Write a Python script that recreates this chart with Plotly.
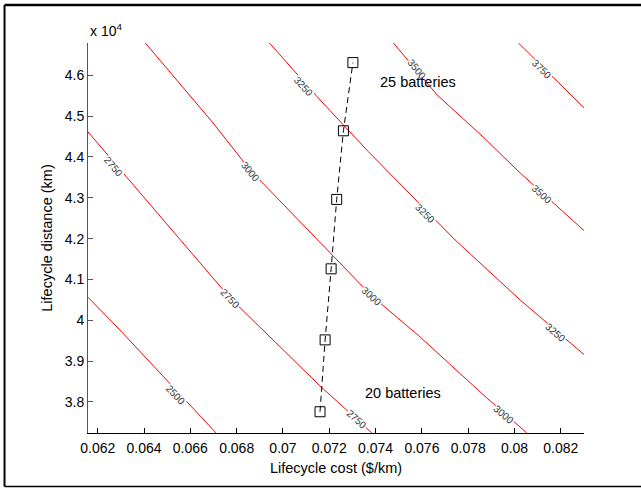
import plotly.graph_objects as go

# ---------------- data ----------------
# contour lines (lifecycle cost $/km, lifecycle distance km)
c2500_x = [0.061581, 0.062963, 0.064691, 0.066419, 0.06711]
c2500_y = [40564, 39760, 38710, 37650, 37241]

c2750_x = [0.061581, 0.063568, 0.065555, 0.067715, 0.069659, 0.071603, 0.073836]
c2750_y = [44612, 43289, 41967, 40547, 39470, 38392, 37241]

c3000_x = [0.064056, 0.066981, 0.068579, 0.071603, 0.073836, 0.075922, 0.078803, 0.080531]
c3000_y = [46791, 44832, 43681, 41894, 40596, 39592, 38098, 37241]

c3250_x = [0.069413, 0.071603, 0.073689, 0.075577, 0.077434, 0.080242, 0.083019]
c3250_y = [46791, 45395, 44129, 43045, 41967, 40498, 39151]

c3500_x = [0.074769, 0.076657, 0.078644, 0.080242, 0.083019]
c3500_y = [46791, 45518, 44489, 43608, 42188]

c3750_x = [0.080168, 0.082186, 0.083019]
c3750_y = [46791, 45665, 45192]

contour_levels = [2500, 2750, 3000, 3250, 3500, 3750]

# contour label positions (level, x, y, angle)
label_level = [2500, 2750, 2750, 2750, 3000, 3000, 3000, 3250, 3250, 3250, 3500, 3500, 3750]
label_x = [0.065339, 0.062674, 0.067715, 0.073188, 0.068579, 0.073836, 0.079521,
           0.070881, 0.076138, 0.081754, 0.07578, 0.081179, 0.081179]
label_y = [38172, 43762, 40540, 37560, 43640, 40579, 37682,
           45721, 42621, 39697, 46130, 43069, 46130]
label_angle = [47, 50, 47, 42, 50, 42, 41, 48, 45, 41, 50, 42, 45]

# battery design points (20 .. 25 batteries)
batteries = [20, 21, 22, 23, 24, 25]
bat_cost = [0.07160, 0.07182, 0.07208, 0.07232, 0.07261, 0.07302]
bat_dist = [37760, 39520, 41260, 42960, 44640, 46310]

x_ticks = [0.062, 0.064, 0.066, 0.068, 0.070, 0.072, 0.074, 0.076, 0.078, 0.080, 0.082]
x_tick_labels = ["0.062", "0.064", "0.066", "0.068", "0.07", "0.072", "0.074",
                 "0.076", "0.078", "0.08", "0.082"]
y_ticks = [38000, 39000, 40000, 41000, 42000, 43000, 44000, 45000, 46000]
y_tick_labels = ["3.8", "3.9", "4", "4.1", "4.2", "4.3", "4.4", "4.5", "4.6"]

# ---------------- figure ----------------
FONT = "Liberation Sans, Arial, sans-serif"
fig = go.Figure()

for xs, ys in [(c2500_x, c2500_y), (c2750_x, c2750_y), (c3000_x, c3000_y),
               (c3250_x, c3250_y), (c3500_x, c3500_y), (c3750_x, c3750_y)]:
    fig.add_trace(go.Scatter(x=xs, y=ys, mode="lines",
                             line=dict(color="#ff0000", width=1),
                             showlegend=False, hoverinfo="skip"))

fig.add_trace(go.Scatter(x=bat_cost, y=bat_dist, mode="lines+markers",
                         line=dict(color="black", width=1, dash="6px,4px"),
                         marker=dict(symbol="square-open", size=10,
                                     color="black", line=dict(width=1)),
                         showlegend=False))

for lv, lx, ly, ang in zip(label_level, label_x, label_y, label_angle):
    fig.add_annotation(x=lx, y=ly, xref="x", yref="y", text=str(lv),
                       showarrow=False, textangle=ang, bgcolor="white",
                       borderpad=0, font=dict(family=FONT, size=10, color="#333"))

fig.add_annotation(x=0.07411, y=45836, xref="x", yref="y", text="25 batteries",
                   xanchor="left", showarrow=False,
                   font=dict(family=FONT, size=14.5, color="black"))
fig.add_annotation(x=0.07346, y=38221, xref="x", yref="y", text="20 batteries",
                   xanchor="left", showarrow=False,
                   font=dict(family=FONT, size=14.5, color="black"))
fig.add_annotation(x=0, y=1.0, xref="paper", yref="paper",
                   text="x 10<sup>4</sup>", xanchor="left", yanchor="bottom",
                   yshift=2, showarrow=False,
                   font=dict(family=FONT, size=14, color="black"))

# figure border (top, left, bottom; right edge lies at the picture edge)
BX0, BX1, BY0, BY1 = -0.1683, 1.116, -0.1372, 1.0974
fig.add_shape(type="line", xref="paper", yref="paper",
              x0=BX0, x1=BX1, y0=BY1, y1=BY1, line=dict(color="black", width=2.5))
fig.add_shape(type="line", xref="paper", yref="paper",
              x0=BX0, x1=BX0, y0=BY0, y1=BY1, line=dict(color="black", width=2))
fig.add_shape(type="line", xref="paper", yref="paper",
              x0=BX0, x1=BX1, y0=BY0, y1=BY0, line=dict(color="black", width=1.5))

fig.update_layout(
    width=641, height=488,
    margin=dict(l=88, r=57, t=43, b=55),
    paper_bgcolor="white", plot_bgcolor="white",
    font=dict(family=FONT, size=14, color="black"),
    xaxis=dict(range=[0.06158, 0.0830], tickvals=x_ticks, ticktext=x_tick_labels,
               ticks="inside", ticklen=5, tickcolor="black", showline=True,
               linecolor="black", linewidth=1, showgrid=False, zeroline=False,
               automargin=False, ticklabelstandoff=2,
               title=dict(text="Lifecycle cost ($/km)", standoff=8,
                          font=dict(size=14.5))),
    yaxis=dict(range=[37240, 46790], tickvals=y_ticks, ticktext=y_tick_labels,
               ticks="inside", ticklen=5, tickcolor="#555", showline=True,
               linecolor="#555", linewidth=1, showgrid=False, zeroline=False,
               automargin=False,
               title=dict(text="Lifecycle distance (km)", standoff=8,
                          font=dict(size=14.5))),
)

fig.write_html("out.html", config={"displayModeBar": False},
               post_script="document.body.style.margin='0';"
                           "document.body.style.overflow='hidden';")
